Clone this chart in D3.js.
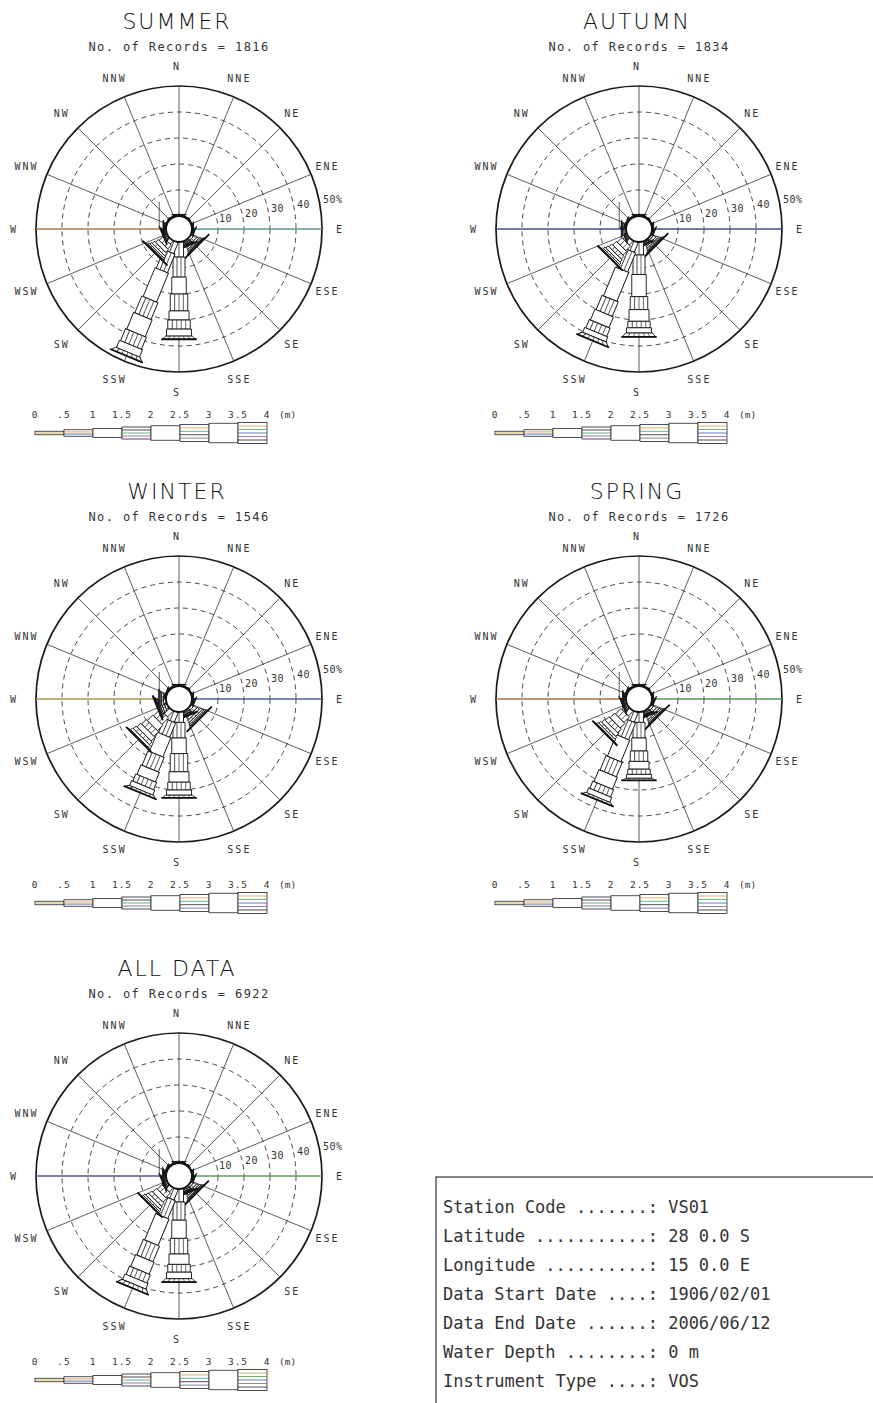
<!DOCTYPE html>
<html><head><meta charset="utf-8">
<script src="https://cdn.jsdelivr.net/npm/d3@7"></script>
<style>
body{margin:0;background:#fff}
svg{display:block}
text{font-family:"DejaVu Sans Mono",monospace;fill:#333}
text.title{font-family:"DejaVu Sans",sans-serif;font-weight:200;fill:#111}
</style>
</head><body>
<svg id="chart" width="873" height="1403"></svg>
<script>
// ---------------- DATA ----------------
const directions = ["N","NNE","NE","ENE","E","ESE","SE","SSE","S","SSW","SW","WSW","W","WNW","NW","NNW"];
const heightLabels = ["0",".5","1","1.5","2","2.5","3","3.5","4"];
const ringTicks = [10,20,30,40];
const roseTitles = ["SUMMER","AUTUMN","WINTER","SPRING","ALL DATA"];
const roseRecords = [1816,1834,1546,1726,6922];

// percentage per height class (0-.5, .5-1, 1-1.5, 1.5-2, 2-2.5, 2.5-3, 3-3.5, 3.5-4) for each direction
const summer = [
  [0.3,0.2,0.1,0,0,0,0,0],[0.2,0.1,0,0,0,0,0,0],[0.1,0.1,0,0,0,0,0,0],[0.1,0.1,0,0,0,0,0,0],
  [0.3,0.2,0.1,0,0,0,0,0],[0.3,0.3,0.2,0.1,0,0,0,0],[1.0,1.2,0.8,0.6,0.4,0.3,0.2,0.1],[0.6,0.6,0.4,0.3,0.2,0.1,0,0],
  [5.8,7.7,6.5,6.5,3.5,3.5,2.7,1.2],[4.6,7.7,12.0,7.0,7.0,5.0,3.0,1.5],[1.5,2.0,1.5,1.2,0.8,0.6,0.3,0.2],[0.6,0.5,0.3,0.2,0.1,0,0,0],
  [0.5,0.3,0.2,0.1,0,0,0,0],[0.2,0.1,0,0,0,0,0,0],[0.2,0.1,0,0,0,0,0,0],[0.2,0.1,0,0,0,0,0,0]
];
const autumn = [
  [0.3,0.2,0.1,0,0,0,0,0],[0.2,0.1,0,0,0,0,0,0],[0.1,0.1,0,0,0,0,0,0],[0.1,0.1,0,0,0,0,0,0],
  [0.3,0.2,0.1,0,0,0,0,0],[0.3,0.3,0.2,0.1,0,0,0,0],[0.8,1.0,0.7,0.6,0.4,0.3,0.2,0.1],[0.5,0.5,0.3,0.2,0.1,0,0,0],
  [5.0,7.5,8.5,5.0,4.5,2.5,2.0,1.5],[4.0,8.0,12.0,6.0,4.5,3.5,2.0,1.5],[2.0,2.5,2.0,1.5,1.2,0.8,0.5,0.3],[0.6,0.4,0.2,0.1,0,0,0,0],
  [0.8,0.6,0.3,0.1,0,0,0,0],[0.3,0.2,0.1,0,0,0,0,0],[0.2,0.1,0,0,0,0,0,0],[0.2,0.1,0,0,0,0,0,0]
];
const winter = [
  [0.3,0.2,0.1,0,0,0,0,0],[0.2,0.1,0,0,0,0,0,0],[0.1,0.1,0,0,0,0,0,0],[0.1,0.1,0,0,0,0,0,0],
  [0.3,0.2,0.1,0,0,0,0,0],[0.4,0.3,0.2,0.1,0,0,0,0],[1.0,1.3,1.0,0.9,0.7,0.5,0.4,0.2],[0.6,0.6,0.4,0.3,0.2,0.1,0,0],
  [4.0,6.0,6.0,7.0,4.0,3.0,2.0,1.0],[4.0,6.0,8.0,6.0,4.0,3.0,2.0,1.0],[3.0,3.5,3.0,2.5,2.0,1.5,1.0,0.5],[1.0,1.0,0.7,0.5,0.4,0.2,0.1,0],
  [1.0,0.8,0.5,0.3,0.2,0,0,0],[0.3,0.2,0.1,0,0,0,0,0],[0.2,0.1,0,0,0,0,0,0],[0.2,0.1,0,0,0,0,0,0]
];
const spring = [
  [0.3,0.2,0.1,0,0,0,0,0],[0.2,0.1,0,0,0,0,0,0],[0.1,0.1,0,0,0,0,0,0],[0.1,0.1,0,0,0,0,0,0],
  [0.3,0.2,0.1,0,0,0,0,0],[0.3,0.3,0.2,0.1,0,0,0,0],[1.0,1.2,0.9,0.7,0.5,0.3,0.2,0.1],[0.6,0.6,0.4,0.3,0.2,0.1,0,0],
  [4.0,6.0,5.0,4.0,3.0,2.0,1.5,0.8],[4.0,7.0,9.0,6.0,5.0,3.0,2.0,1.0],[2.5,3.0,2.5,2.0,1.5,1.0,0.7,0.4],[0.7,0.5,0.3,0.2,0.1,0,0,0],
  [0.6,0.4,0.2,0.1,0,0,0,0],[0.3,0.2,0.1,0,0,0,0,0],[0.2,0.1,0,0,0,0,0,0],[0.2,0.1,0,0,0,0,0,0]
];
const allData = [
  [0.3,0.2,0.1,0,0,0,0,0],[0.2,0.1,0,0,0,0,0,0],[0.1,0.1,0,0,0,0,0,0],[0.1,0.1,0,0,0,0,0,0],
  [0.3,0.2,0.1,0,0,0,0,0],[0.3,0.3,0.2,0.1,0,0,0,0],[0.9,1.1,0.8,0.6,0.4,0.3,0.2,0.1],[0.6,0.6,0.4,0.3,0.2,0.1,0,0],
  [5.0,7.0,7.0,6.0,4.0,3.0,2.5,1.3],[4.3,7.5,11.0,6.5,5.0,3.5,2.3,1.6],[2.0,2.5,2.0,1.5,1.2,0.8,0.5,0.3],[0.7,0.5,0.3,0.2,0.1,0,0,0],
  [0.6,0.4,0.2,0.1,0,0,0,0],[0.3,0.2,0.1,0,0,0,0,0],[0.2,0.1,0,0,0,0,0,0],[0.2,0.1,0,0,0,0,0,0]
];
const roseData = [summer, autumn, winter, spring, allData];

const stationLabels = ["Station Code .......:","Latitude ...........:","Longitude ..........:","Data Start Date ....:","Data End Date ......:","Water Depth ........:","Instrument Type ....:"];
const stationValues = ["VS01","28 0.0 S","15 0.0 E","1906/02/01","2006/06/12","0 m","VOS"];

// ---------------- LAYOUT / STYLE ----------------
const roseCenters = [[179,229],[639,229],[179,699],[639,699],[179,1176]];
const axisColors = [["#d9894a","#5bb8a8"],["#3a4aa0","#3a4aa0"],["#d6b34a","#4a63b0"],["#d07a3a","#5ab05a"],["#5a4aa8","#6ab46a"]];
const classWidth = [3.5,6.5,9,12,14.5,17,19.5,21];
const stripeColors = [
  ["#c9a53a"],
  ["#d99a3a","#3a55a8"],
  [],
  ["#222","#4aa06a","#7a55a0"],
  [],
  ["#d0a040","#3aa08a","#222","#7a55a0"],
  [],
  ["#d0a040","#4aa060","#3a55b0","#8a55a0","#222"]
];

const svg = d3.select("#chart");
const rScale = d3.scaleLinear().domain([0,50]).range([13,143]);
const angle = d3.scaleLinear().domain([0,16]).range([0,360]);

function drawLegendSegment(g, x0, x1, w, stripes) {
  g.append("rect").attr("x",x0).attr("y",-w/2).attr("width",x1-x0).attr("height",w)
    .attr("fill","#fff").attr("stroke","#222").attr("stroke-width",0.8);
  stripes.forEach((c,k)=>{
    const y = -w/2 + w*(k+1)/(stripes.length+1);
    g.append("line").attr("x1",x0).attr("x2",x1).attr("y1",y).attr("y2",y).attr("stroke",c).attr("stroke-width",0.8);
  });
}

function drawBarSegment(g, r0, r1, w, stripes, flare, last) {
  const wo = w + flare;   // outer width (flared for the top class)
  g.append("path")
    .attr("d", d3.line()([[-w/2,-r0],[w/2,-r0],[wo/2,-r1],[-wo/2,-r1]]) + "Z")
    .attr("fill","#fff").attr("stroke","#111").attr("stroke-width",0.9);
  stripes.forEach((c,k)=>{
    const f = (k+1)/(stripes.length+1);
    g.append("line")
      .attr("x1",-w/2 + w*f).attr("y1",-r0)
      .attr("x2",-wo/2 + wo*f).attr("y2",-r1)
      .attr("stroke",k===stripes.length-1?"#222":"#444").attr("stroke-width",0.8);
  });
  if (last) {
    g.append("line").attr("x1",-wo/2-1).attr("x2",wo/2+1).attr("y1",-r1).attr("y2",-r1)
      .attr("stroke","#111").attr("stroke-width",1.8);
  }
}

roseData.forEach((data, ri) => {
  const [cx, cy] = roseCenters[ri];
  const g = svg.append("g").attr("transform",`translate(${cx},${cy})`);

  g.append("text").attr("class","title").attr("x",-2).attr("y",-200).attr("text-anchor","middle")
    .style("font-size","22px").style("letter-spacing","2px").text(roseTitles[ri]);
  g.append("text").attr("x",0).attr("y",-178).attr("text-anchor","middle")
    .style("font-size","12px").style("letter-spacing","1.4px").text(`No. of Records = ${roseRecords[ri]}`);

  ringTicks.forEach(t => {
    g.append("circle").attr("r",rScale(t)).attr("fill","none").attr("stroke","#333")
      .attr("stroke-width",0.9).attr("stroke-dasharray","5,4");
  });
  g.append("circle").attr("r",rScale(50)).attr("fill","none").attr("stroke","#1a1a1a").attr("stroke-width",1.7);

  directions.forEach((d,i) => {
    const a = angle(i)*Math.PI/180;
    g.append("line")
      .attr("x1",rScale(0)*Math.sin(a)).attr("y1",-rScale(0)*Math.cos(a))
      .attr("x2",rScale(50)*Math.sin(a)).attr("y2",-rScale(50)*Math.cos(a))
      .attr("stroke","#333").attr("stroke-width",0.8);
  });
  g.append("line").attr("x1",-rScale(50)).attr("x2",-rScale(0)).attr("y1",0).attr("y2",0)
    .attr("stroke",axisColors[ri][0]).attr("stroke-width",1.1);
  g.append("line").attr("x1",rScale(0)).attr("x2",rScale(50)).attr("y1",0).attr("y2",0)
    .attr("stroke",axisColors[ri][1]).attr("stroke-width",1.1);

  directions.forEach((d,i) => {
    const a = angle(i)*Math.PI/180;
    g.append("text").attr("x",163*Math.sin(a)-2).attr("y",-163*Math.cos(a))
      .attr("text-anchor","middle").attr("dominant-baseline","central")
      .style("font-size","10px").style("letter-spacing","2px").text(d);
  });
  [...ringTicks, 50].forEach(t => {
    g.append("text").attr("x",rScale(t)+1).attr("y",-0.183*rScale(t))
      .style("font-size","10px").style("letter-spacing","0.5px").text(t===50?"50%":t);
  });

  // bars
  data.forEach((vals,i) => {
    const bg = g.append("g").attr("transform",`rotate(${angle(i)})`);
    let cum = 0;
    let lastK = -1;
    vals.forEach((v,k) => { if (v > 0) lastK = k; });
    vals.forEach((v,k) => {
      if (v <= 0) return;
      const r0 = rScale(cum), r1 = rScale(cum+v);
      cum += v;
      drawBarSegment(bg, r0, r1, classWidth[k]+5.5, stripeColors[k], k===7 ? 7 : 0, k===lastK && k>=5);
    });
  });

  g.append("line").attr("x1",-rScale(2.6)).attr("x2",-rScale(2.6)).attr("y1",-rScale(5.4)).attr("y2",0)
    .attr("stroke","#333").attr("stroke-width",0.8);
  g.append("circle").attr("r",rScale(0)).attr("fill","#fff").attr("stroke","#111").attr("stroke-width",1.9);

  // legend
  const lg = g.append("g").attr("transform",`translate(-144,204)`);
  const lx = d3.scaleLinear().domain([0,8]).range([0,232]);
  classWidth.forEach((w,k) => drawLegendSegment(lg, lx(k), lx(k+1), w, stripeColors[k]));
  heightLabels.forEach((t,k) => {
    lg.append("text").attr("x",lx(k)).attr("y",-15).attr("text-anchor","middle")
      .style("font-size","9.5px").style("letter-spacing","1px").text(t);
  });
  lg.append("text").attr("x",lx(8)+12).attr("y",-15).style("font-size","9.5px").text("(m)");
});

// station info box
const box = svg.append("g");
box.append("rect").attr("x",436).attr("y",1177).attr("width",460).attr("height",260)
  .attr("fill","none").attr("stroke","#333").attr("stroke-width",1.2);
stationLabels.forEach((t,i) => {
  box.append("text").attr("x",443).attr("y",1213+29*i).style("font-size","17px").style("fill","#333")
    .text(t + " " + stationValues[i]);
});
</script>
</body></html>
